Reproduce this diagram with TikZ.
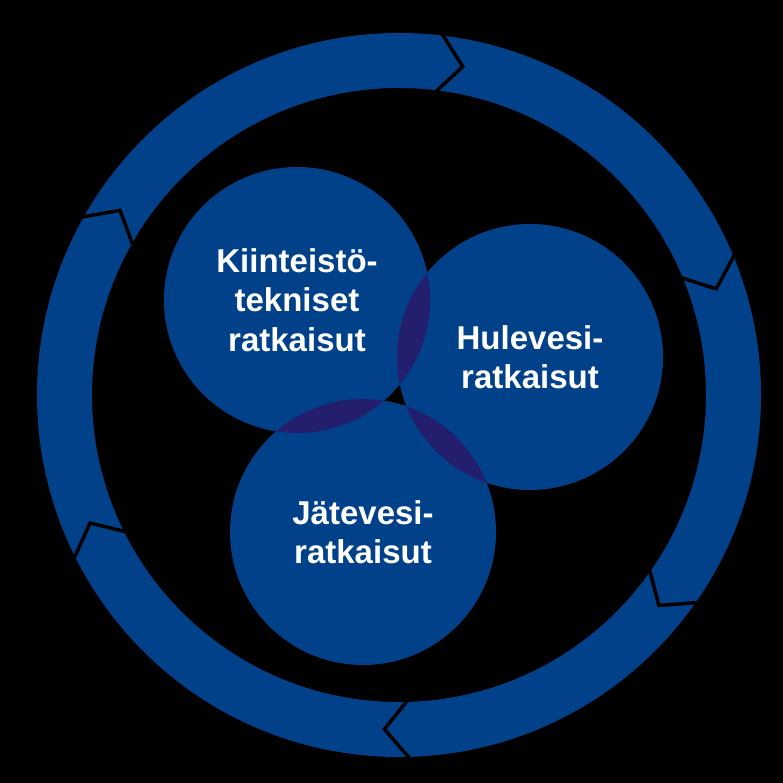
\documentclass[tikz,border=0pt]{standalone}
\usepackage{fontspec}
\setmainfont{Liberation Sans}
\usepackage{tikz}
\usetikzlibrary{positioning}
\definecolor{VesiBlue}{HTML}{00418A}
\definecolor{DarkOverlap}{HTML}{231F6E}

\begin{document}
\begin{tikzpicture}[x=1pt, y=-1pt,
    bubble/.style={circle, fill=VesiBlue, minimum size=266pt, inner sep=0pt,
      align=center, text=white, font=\bfseries\fontsize{33}{39.5}\selectfont},
    gap/.style={black, line width=3.5pt, line join=miter}]
        \fill[black] (0,0) rectangle (783,783);
        \useasboundingbox (0,0) rectangle (783,783);
        % Kehä
        \coordinate (c) at (399,395);
        \fill[VesiBlue, even odd rule] (c) circle (362pt) (c) circle (307pt);
        \foreach \a in {83.5,23,-34.5,-88,-153,151}
          \draw[gap] ([shift={(\a:366pt)}]c) -- ([shift={(\a-4.5:334.5pt)}]c) -- ([shift={(\a:303pt)}]c);
        % Ympyrät
        \node[bubble] (kiint) at (297,300) {Kiinteistö-\\tekniset\\ratkaisut};
        \node[bubble] (hule) at (530,357) {Hulevesi-\\ratkaisut};
        \node[bubble] (jate) at (363,532) {Jätevesi-\\ratkaisut};
        % Leikkaukset
        \begin{scope}
          \clip (kiint.center) circle (133pt);
          \fill[DarkOverlap] (hule.center) circle (133pt);
          \fill[DarkOverlap] (jate.center) circle (133pt);
        \end{scope}
        \begin{scope}
          \clip (hule.center) circle (133pt);
          \fill[DarkOverlap] (jate.center) circle (133pt);
        \end{scope}
      \end{tikzpicture}
\end{document}
